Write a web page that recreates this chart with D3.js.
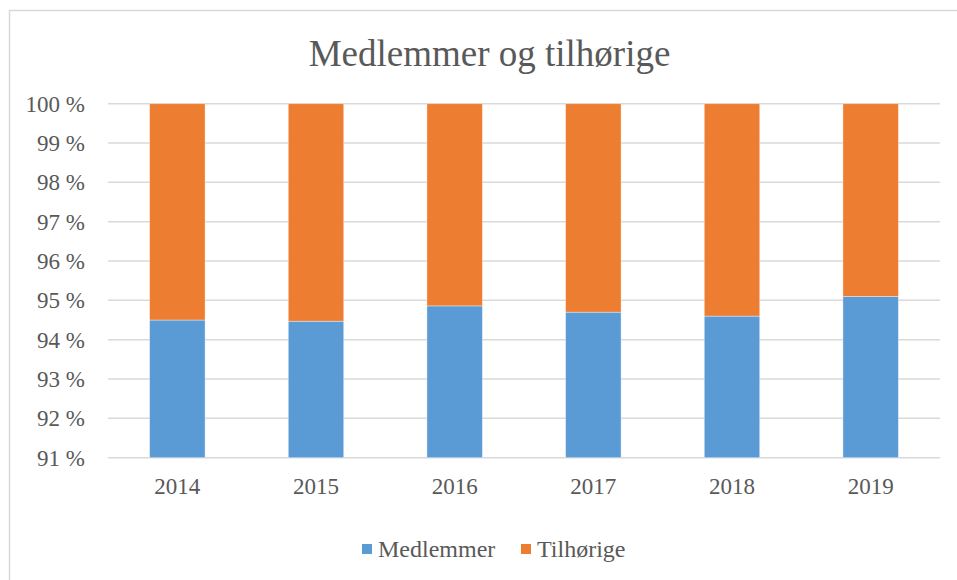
<!DOCTYPE html>
<html><head><meta charset="utf-8">
<script src="https://cdn.jsdelivr.net/npm/d3@7"></script>
<style>body{margin:0;background:#fff}svg{display:block}svg text{font-family:"Liberation Serif",serif}</style>
</head><body>
<svg id="c" width="957" height="580"></svg>
<script>
const years = ["2014","2015","2016","2017","2018","2019"];
const medlemmer = [94.50, 94.47, 94.86, 94.70, 94.60, 95.10];
const tilhorige = medlemmer.map(v => +(100 - v).toFixed(2));
const seriesNames = ["Medlemmer","Tilhørige"];
const seriesColors = ["#5b9bd5","#ed7d31"];
const yTicks = [91,92,93,94,95,96,97,98,99,100];
const title = "Medlemmer og tilhørige";

(function(){
const svg = d3.select("#c");
const textColor = "#595959";
const fs = "24px";

svg.append("rect").attr("x",9.5).attr("y",10.5).attr("width",960).attr("height",600)
  .attr("fill","#fff").attr("stroke","#d9d9d9").attr("stroke-width",1.5);

const pL=108, pR=940, pT=103.7, pB=457.7;
const x = d3.scaleBand().domain(years).range([pL,pR]).paddingInner(0.6).paddingOuter(0.3);
const y = d3.scaleLinear().domain([91,100]).range([pB,pT]);

svg.append("g").selectAll("line").data(yTicks).join("line")
  .attr("x1",pL).attr("x2",pR)
  .attr("y1",d=>y(d)).attr("y2",d=>y(d))
  .attr("stroke","#d9d9d9").attr("stroke-width",1.5);

const yAxis = d3.axisLeft(y).tickValues(yTicks).tickSize(0).tickPadding(0).tickFormat(d=>d+" %");
const gy = svg.append("g").attr("transform",`translate(85,0)`).call(yAxis);
gy.select(".domain").remove();
gy.attr("font-family",null).attr("font-size",null);
gy.selectAll("text").style("font-size","23px").attr("fill",textColor);

const rows = years.map((yr,i)=>({year:yr, Medlemmer:medlemmer[i], "Tilhørige":tilhorige[i]}));
const stack = d3.stack().keys(seriesNames)(rows);
stack.forEach((s,si)=>{
  svg.append("g").selectAll("rect").data(s).join("rect")
    .attr("x",d=>x(d.data.year))
    .attr("width",x.bandwidth())
    .attr("y",d=>y(Math.min(d[1],100)))
    .attr("height",d=>y(Math.max(d[0],91)) - y(Math.min(d[1],100)))
    .attr("fill",seriesColors[si])
    .attr("stroke","#fff").attr("stroke-opacity",0.5).attr("stroke-width",0.75);
});

const xAxis = d3.axisBottom(x).tickSize(0).tickPadding(0);
const gx = svg.append("g").attr("transform",`translate(0,${pB+20})`).call(xAxis);
gx.select(".domain").remove();
gx.attr("font-family",null).attr("font-size",null);
gx.selectAll("text").style("font-size","23px").attr("fill",textColor).attr("dy","0.71em");

svg.append("text").attr("x",489.5).attr("y",66).attr("text-anchor","middle")
  .style("font-size","37px").attr("fill",textColor).text(title);

const legendX = [362, 521];
const lg = svg.append("g").selectAll("g").data(seriesNames).join("g")
  .attr("transform",(d,i)=>`translate(${legendX[i]},549)`);
lg.append("rect").attr("x",0).attr("y",-5).attr("width",10).attr("height",10)
  .attr("fill",(d,i)=>seriesColors[i]);
lg.append("text").attr("x",16).attr("y",0).attr("dy","0.35em")
  .style("font-size",fs).attr("fill",textColor).text(d=>d);
})();
</script>
</body></html>
